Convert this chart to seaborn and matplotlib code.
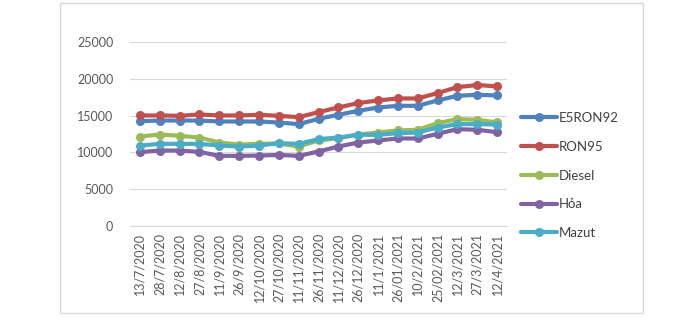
import matplotlib
matplotlib.use("Agg")
import matplotlib.pyplot as plt
import seaborn as sns
import pandas as pd
from matplotlib.patches import Rectangle

dates = ["13/7/2020", "28/7/2020", "12/8/2020", "27/8/2020", "11/9/2020", "26/9/2020",
         "12/10/2020", "27/10/2020", "11/11/2020", "26/11/2020", "11/12/2020", "26/12/2020",
         "11/1/2021", "26/01/2021", "10/2/2021", "25/02/2021", "12/3/2021", "27/3/2021", "12/4/2021"]

e5ron92 = [14250, 14330, 14330, 14330, 14200, 14200, 14200, 14060, 13840, 14560, 15110, 15650,
           16100, 16330, 16330, 17060, 17690, 17830, 17740]
ron95 = [15020, 15020, 14970, 15150, 15020, 15020, 15110, 14970, 14790, 15470, 16110, 16700,
         17060, 17330, 17330, 18060, 18870, 19150, 18970]
diesel = [12160, 12430, 12250, 12020, 11340, 11070, 11160, 11210, 10800, 11620, 11930, 12430,
          12700, 12980, 13070, 13970, 14520, 14430, 14070]
hoa = [10030, 10250, 10250, 10070, 9530, 9530, 9570, 9660, 9530, 10120, 10800, 11340,
       11620, 11890, 11890, 12520, 13160, 13070, 12750]
mazut = [10930, 11160, 11160, 11160, 10930, 10800, 10930, 11250, 11160, 11800, 12020, 12390,
         12390, 12610, 12700, 13380, 13840, 13840, 13790]

series_names = ["E5RON92", "RON95", "Diesel", "Hỏa", "Mazut"]
series_values = [e5ron92, ron95, diesel, hoa, mazut]
colors = ["#4F81BD", "#C0504D", "#9BBB59", "#8064A2", "#4BACC6"]

rows = []
for name, vals in zip(series_names, series_values):
    for i, v in enumerate(vals):
        rows.append({"idx": i, "value": v, "series": name})
df = pd.DataFrame(rows)

sns.set_style("white")
plt.rcParams["font.family"] = ["Lato", "DejaVu Sans"]

fig = plt.figure(figsize=(6.86, 3.24), dpi=100)
ax = fig.add_axes([130 / 686, 1 - 226 / 324, 377 / 686, 184 / 324])

sns.lineplot(data=df, x="idx", y="value", hue="series", hue_order=series_names,
             palette=colors, marker="o", markersize=6.5, markeredgewidth=0,
             linewidth=3, ax=ax, legend=False, sort=False)

ax.set_xlim(-0.5, len(dates) - 0.5)
ax.set_ylim(0, 25000)
ax.set_yticks([0, 5000, 10000, 15000, 20000, 25000])
ax.set_yticklabels(["0", "5000", "10000", "15000", "20000", "25000"])
ax.set_xticks(range(len(dates)))
ax.set_xticklabels(dates, rotation=90)
ax.tick_params(axis="both", length=0, labelsize=9, colors="#595959")
ax.tick_params(axis="y", pad=12)
ax.tick_params(axis="x", pad=5)
ax.set_xlabel("")
ax.set_ylabel("")
ax.grid(axis="y", color="#D9D9D9", linewidth=0.8)
ax.set_axisbelow(True)
for s in ["top", "right", "left"]:
    ax.spines[s].set_visible(False)
ax.spines["bottom"].set_color("#D9D9D9")
ax.spines["bottom"].set_linewidth(0.8)

handles = ax.get_lines()[:len(series_names)]
leg = fig.legend(handles, series_names, loc="upper left",
                 bbox_to_anchor=(521 / 686, 1 - 112 / 324), frameon=False,
                 fontsize=9.5, handlelength=2.75, handletextpad=0.08,
                 labelspacing=1.27, numpoints=1, labelcolor="#404040",
                 borderpad=0, borderaxespad=0)

fig.patches.append(Rectangle((60 / 686, 1 - 313 / 324), 583 / 686, 310 / 324,
                             transform=fig.transFigure, fill=False,
                             edgecolor="#D9D9D9", linewidth=1))

fig.savefig("out.png", dpi=100, facecolor="white")
